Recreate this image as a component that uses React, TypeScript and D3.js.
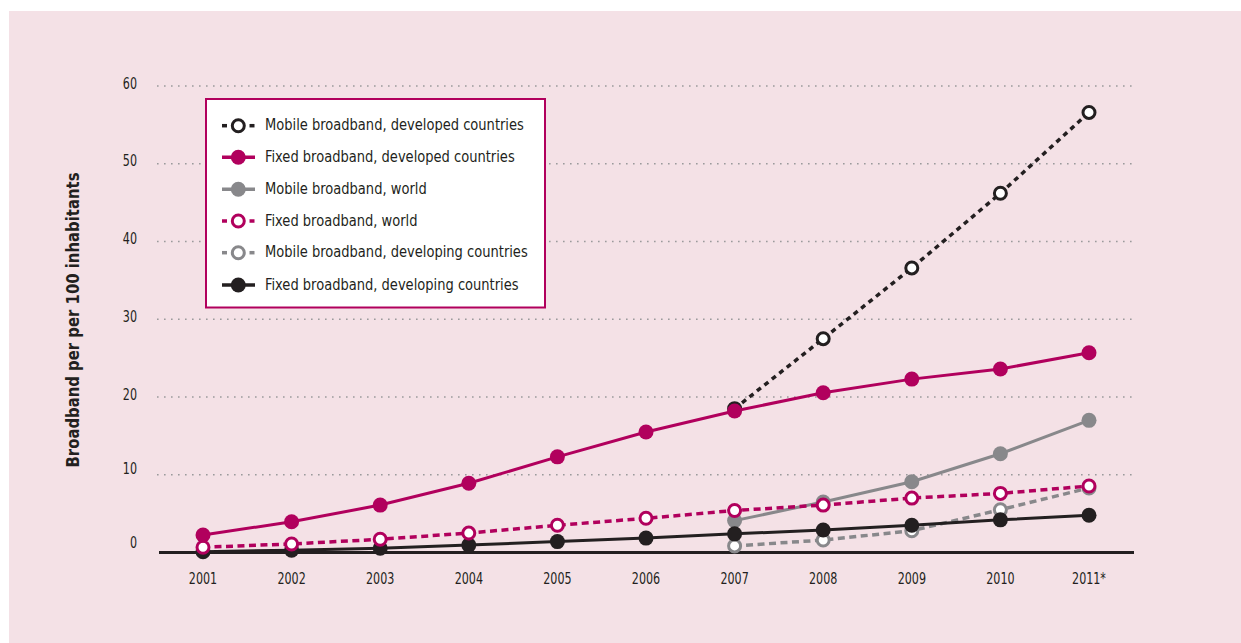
import React from "react";
import * as d3 from "d3";

const years = ["2001", "2002", "2003", "2004", "2005", "2006", "2007", "2008", "2009", "2010", "2011*"];
const yTicks = [0, 10, 20, 30, 40, 50, 60];

const mobileDeveloped = [null, null, null, null, null, null, 18.5, 27.5, 36.6, 46.2, 56.6];
const fixedDeveloped = [2.25, 3.95, 6.1, 8.9, 12.3, 15.5, 18.2, 20.55, 22.3, 23.6, 25.7];
const mobileWorld = [null, null, null, null, null, null, 4.1, 6.5, 9.1, 12.7, 17.0];
const fixedWorld = [0.67, 1.1, 1.7, 2.5, 3.5, 4.4, 5.4, 6.1, 7.0, 7.6, 8.55];
const mobileDeveloping = [null, null, null, null, null, null, 0.85, 1.6, 2.8, 5.5, 8.3];
const fixedDeveloping = [0.1, 0.3, 0.55, 0.95, 1.4, 1.85, 2.4, 2.9, 3.5, 4.2, 4.8];

const MAG = "#b1005d";
const DARK = "#231f20";
const GREY = "#88888b";
const BG = "#f4e1e6";

type Series = {
  name: string;
  values: (number | null)[];
  color: string;
  dashed: boolean;
  hollow: boolean;
  dash?: string;
};

const legendOrder: Series[] = [
  { name: "Mobile broadband, developed countries", values: mobileDeveloped, color: DARK, dashed: true, hollow: true, dash: "5,4.5" },
  { name: "Fixed broadband, developed countries", values: fixedDeveloped, color: MAG, dashed: false, hollow: false },
  { name: "Mobile broadband, world", values: mobileWorld, color: GREY, dashed: false, hollow: false },
  { name: "Fixed broadband, world", values: fixedWorld, color: MAG, dashed: true, hollow: true, dash: "7,4.5" },
  { name: "Mobile broadband, developing countries", values: mobileDeveloping, color: GREY, dashed: true, hollow: true, dash: "7,4.5" },
  { name: "Fixed broadband, developing countries", values: fixedDeveloping, color: DARK, dashed: false, hollow: false },
];

// drawing order bottom -> top
const drawOrder = [4, 2, 0, 5, 3, 1].map((i) => legendOrder[i]);

const FONT = "'Liberation Sans Narrow', 'DejaVu Sans Condensed', 'Roboto Condensed', sans-serif";

export default function App() {
  const W = 1241;
  const H = 643;
  const x = d3.scalePoint<string>().domain(years).range([203, 1089]);
  const y = d3.scaleLinear().domain([0, 60]).range([552.5, 86]);

  const line = (vals: (number | null)[]) =>
    d3
      .line<number | null>()
      .defined((d) => d !== null)
      .x((_, i) => x(years[i]) as number)
      .y((d) => y(d as number))(vals) || "";

  const legendYs = [125.7, 157.3, 189.3, 221, 252.7, 285];
  const labelOffset = (t: number) => (t === 0 ? -9.5 : t === 10 ? -5 : -2);

  return (
    <svg width={W} height={H} style={{ position: "absolute", left: 0, top: 0 }} fontFamily={FONT}>
      <rect x={0} y={0} width={W} height={H} fill="#ffffff" />
      <rect x={9} y={11} width={W - 9} height={H - 11} fill={BG} />

      {/* gridlines */}
      {yTicks.filter((t) => t > 0).map((t) => (
        <line
          key={t}
          x1={157}
          x2={1133}
          y1={y(t)}
          y2={y(t)}
          stroke="#9a9a9c"
          strokeWidth={1.6}
          strokeDasharray="1.6,5.4"
        />
      ))}

      {/* y tick labels */}
      {yTicks.map((t) => (
        <text
          key={t}
          transform={`translate(137,${y(t) + labelOffset(t)}) scale(0.75,1)`}
          textAnchor="end"
          dominantBaseline="middle"
          fontSize={16.5}
          fill={DARK}
        >
          {t}
        </text>
      ))}

      {/* y title */}
      <text
        transform={`translate(79,320) rotate(-90)`}
        textAnchor="middle"
        fontSize={18}
        fontWeight="bold"
        fill={DARK}
        textLength={295}
        lengthAdjust="spacingAndGlyphs"
      >
        Broadband per per 100 inhabitants
      </text>

      {/* x labels */}
      {years.map((yr) => (
        <text
          key={yr}
          transform={`translate(${x(yr) as number},579) scale(0.75,1)`}
          textAnchor="middle"
          dominantBaseline="middle"
          fontSize={16.5}
          fill={DARK}
        >
          {yr}
        </text>
      ))}

      {/* axis line */}
      <line x1={159} x2={1134} y1={y(0)} y2={y(0)} stroke={DARK} strokeWidth={3} />

      {/* series */}
      {drawOrder.map((s) => (
        <g key={s.name}>
          <path
            d={line(s.values)}
            fill="none"
            stroke={s.color}
            strokeWidth={s.dashed ? 3.5 : 3}
            strokeDasharray={s.dashed ? s.dash : undefined}
          />
          {s.values.map((v, i) =>
            v === null ? null : (
              <circle
                key={i}
                cx={x(years[i]) as number}
                cy={y(v)}
                r={s.hollow ? 6 : 7.5}
                fill={s.hollow ? "#ffffff" : s.color}
                stroke={s.hollow ? s.color : "none"}
                strokeWidth={s.hollow ? 3 : 0}
              />
            )
          )}
        </g>
      ))}

      {/* legend */}
      <rect x={206} y={99} width={339} height={208.5} fill="#ffffff" stroke={MAG} strokeWidth={2} />
      {legendOrder.map((s, i) => {
        const ly = legendYs[i];
        return (
          <g key={s.name}>
            {s.dashed ? (
              <>
                <line x1={222} x2={227} y1={ly} y2={ly} stroke={s.color} strokeWidth={3.5} />
                <line x1={249.5} x2={254.5} y1={ly} y2={ly} stroke={s.color} strokeWidth={3.5} />
              </>
            ) : (
              <line x1={222} x2={255} y1={ly} y2={ly} stroke={s.color} strokeWidth={3.5} />
            )}
            <circle
              cx={238.3}
              cy={ly}
              r={s.hollow ? 6 : 7.5}
              fill={s.hollow ? "#ffffff" : s.color}
              stroke={s.hollow ? s.color : "none"}
              strokeWidth={s.hollow ? 3 : 0}
            />
            <text
              transform={`translate(265,${ly}) scale(0.88,1)`}
              dominantBaseline="middle"
              fontSize={16.5}
              fill={DARK}
            >
              {s.name}
            </text>
          </g>
        );
      })}
    </svg>
  );
}
